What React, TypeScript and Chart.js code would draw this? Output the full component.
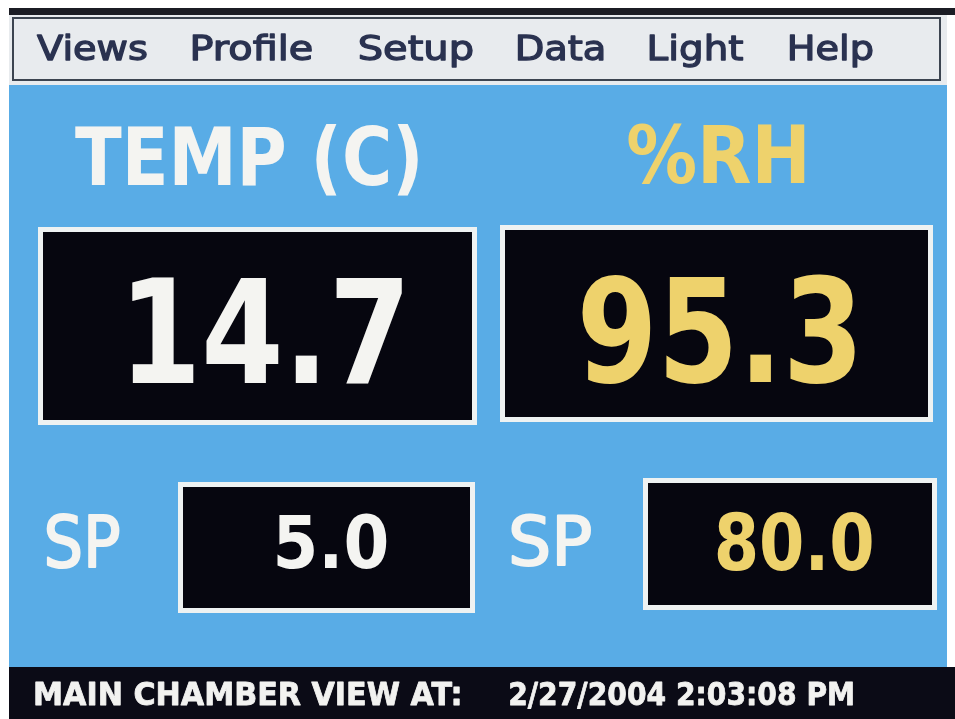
import React, { useEffect, useRef } from "react";
import { Chart, registerables } from "chart.js";

Chart.register(...registerables);

// ---- data ----
const menuItems = ["Views", "Profile", "Setup", "Data", "Light", "Help"];
const channelTitles = ["TEMP (C)", "%RH"];
const processValues = [14.7, 95.3];
const setpointLabel = "SP";
const setpointValues = [5.0, 80.0];
const statusLabel = "MAIN CHAMBER VIEW AT:";
const statusTimestamp = "2/27/2004 2:03:08 PM";

// ---- layout (pixels) ----
const W = 955;
const H = 719;
const FAMILY = '"DejaVu Sans", Verdana, Tahoma, sans-serif';

// text boxes: [left, baseline, capHeight, inkWidth]
const menuLayout = [
  [37, 60, 25, 110],
  [193, 60, 25, 119],
  [360, 60, 25, 112],
  [518, 60, 25, 85],
  [650, 60, 25, 93],
  [790, 60, 25, 82],
];
const titleLayout = [
  [75, 185, 58, 343],
  [628, 183, 58, 177],
];
const pvBoxes = [
  [38, 227, 439, 198],
  [500, 225, 433, 197],
];
const pvText = [
  [132, 383, 106, 270],
  [582, 382, 106, 273],
];
const spLabelLayout = [
  [47, 567, 52, 72],
  [512, 565, 50, 78],
];
const spBoxes = [
  [178, 482, 297, 131],
  [643, 478, 294, 132],
];
const spText = [
  [277, 568, 53, 110],
  [717, 570, 57, 155],
];
const statusLayout = [
  [35, 705, 23, 425],
  [510, 705, 23, 343],
];

const WHITE = "#f4f4f1";
const YELLOW = "#eed26c";
const channelColors = [WHITE, YELLOW];

function drawFit(
  ctx: CanvasRenderingContext2D,
  text: string,
  weight: string,
  box: number[],
  color: string,
  thicken = 0
) {
  const [left, baseline, capH, width] = box;
  ctx.font = `${weight} 100px ${FAMILY}`;
  const capRatio = ctx.measureText("H").actualBoundingBoxAscent / 100;
  const size = capH / capRatio;
  ctx.font = `${weight} ${size}px ${FAMILY}`;
  ctx.textAlign = "left";
  ctx.textBaseline = "alphabetic";
  const m = ctx.measureText(text);
  const ink = m.actualBoundingBoxLeft + m.actualBoundingBoxRight;
  const sx = width / ink;
  ctx.save();
  ctx.translate(left, baseline);
  ctx.scale(sx, 1);
  ctx.fillStyle = color;
  ctx.fillText(text, m.actualBoundingBoxLeft, 0);
  if (thicken > 0) {
    ctx.strokeStyle = color;
    ctx.lineWidth = thicken;
    ctx.lineJoin = "round";
    ctx.strokeText(text, m.actualBoundingBoxLeft, 0);
  }
  ctx.restore();
}

function drawBox(ctx: CanvasRenderingContext2D, b: number[]) {
  const [x, y, w, h] = b;
  const bw = 5;
  ctx.fillStyle = "#eef2f2";
  ctx.fillRect(x, y, w, h);
  ctx.fillStyle = "#06060f";
  ctx.fillRect(x + bw, y + bw, w - 2 * bw, h - 2 * bw);
}

const panelPlugin = {
  id: "chamberPanel",
  beforeDraw(chart: any) {
    const ctx: CanvasRenderingContext2D = chart.ctx;
    const labels: string[] = chart.data.labels;
    const pv: number[] = chart.data.datasets[0].data;
    const sp: number[] = chart.data.datasets[1].data;
    ctx.save();
    // page
    ctx.fillStyle = "#ffffff";
    ctx.fillRect(0, 0, W, H);
    // top bezel line
    ctx.fillStyle = "#1b1c24";
    ctx.fillRect(9, 8, W - 9, 7);
    // menu bar
    ctx.fillStyle = "#e8ebee";
    ctx.fillRect(9, 15, 938, 70);
    ctx.strokeStyle = "#3c4450";
    ctx.lineWidth = 2;
    ctx.strokeRect(13, 18, 927, 62);
    menuItems.forEach((t, i) => drawFit(ctx, t, "normal", menuLayout[i], "#2a3250", 1.3));
    // blue screen
    ctx.fillStyle = "#59ace6";
    ctx.fillRect(9, 85, 938, 582);
    // titles
    labels.forEach((t, i) => drawFit(ctx, t, "bold", titleLayout[i], channelColors[i]));
    // process value boxes
    pv.forEach((v, i) => {
      drawBox(ctx, pvBoxes[i]);
      drawFit(ctx, v.toFixed(1), "bold", pvText[i], channelColors[i]);
    });
    // setpoints
    sp.forEach((v, i) => {
      drawFit(ctx, setpointLabel, "normal", spLabelLayout[i], WHITE, 2);
      drawBox(ctx, spBoxes[i]);
      drawFit(ctx, v.toFixed(1), "bold", spText[i], channelColors[i]);
    });
    // status bar
    ctx.fillStyle = "#0b0b16";
    ctx.fillRect(9, 667, W - 9, H - 667);
    drawFit(ctx, statusLabel, "bold", statusLayout[0], "#f2f2f0", 0.8);
    drawFit(ctx, statusTimestamp, "bold", statusLayout[1], "#f2f2f0", 0.8);
    ctx.restore();
  },
};

export default function App() {
  const ref = useRef<HTMLCanvasElement | null>(null);
  useEffect(() => {
    if (!ref.current) return;
    const chart = new Chart(ref.current, {
      type: "bar",
      data: {
        labels: channelTitles,
        datasets: [
          { label: "PV", data: processValues, backgroundColor: "rgba(0,0,0,0)" },
          { label: "SP", data: setpointValues, backgroundColor: "rgba(0,0,0,0)" },
        ],
      },
      options: {
        animation: false,
        responsive: false,
        devicePixelRatio: 1,
        events: [],
        layout: { padding: 0 },
        plugins: { legend: { display: false }, tooltip: { enabled: false }, title: { display: false } },
        scales: { x: { display: false }, y: { display: false } },
      },
      plugins: [panelPlugin],
    } as any);
    return () => chart.destroy();
  }, []);
  return (
    <div style={{ position: "absolute", left: 0, top: 0, width: W, height: H }}>
      <canvas ref={ref} width={W} height={H} style={{ display: "block", width: W, height: H }} />
    </div>
  );
}
